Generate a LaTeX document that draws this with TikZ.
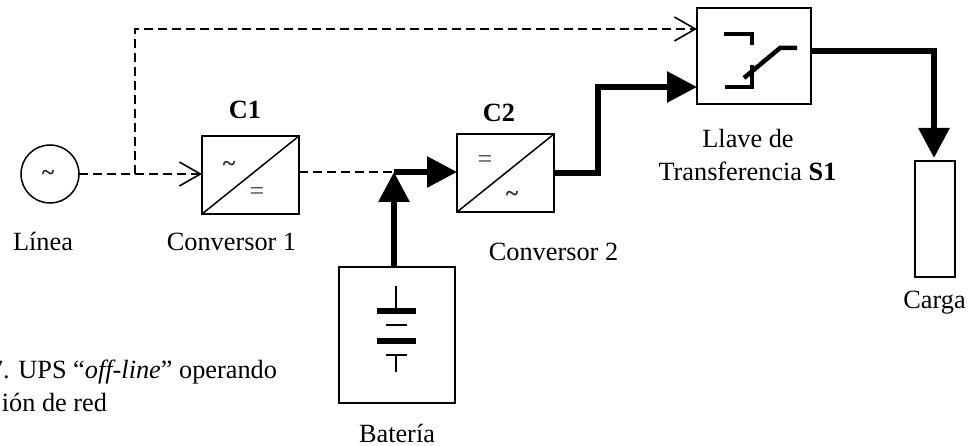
\documentclass[tikz,border=0pt]{standalone}
\usepackage{fontspec}
\setmainfont{Liberation Serif}
\usetikzlibrary{arrows.meta}
\tikzset{
  x=1pt,y=-1pt,
  every node/.style={font=\fontsize{26.3}{30}\selectfont,inner sep=0pt,outer sep=0pt},
  box/.style={draw,line width=1.5pt,rectangle},
  label/.style={anchor=base},
  sign/.style={font=\fontsize{26}{30}\selectfont,text=black!75},
  wave/.style={font=\fontsize{24}{30}\selectfont\bfseries,text=black!85},
  thin line/.style={line width=1.5pt},
  dash line/.style={line width=1.5pt,dash pattern=on 9pt off 5pt,-{Straight Barb[length=21pt,width=24pt,line width=1.6pt]}},
  dash plain/.style={line width=1.5pt,dash pattern=on 9pt off 5pt},
  heavy/.style={line width=6pt},
  heavy arrow/.style={line width=6pt,-{Triangle[length=30pt,width=30pt]}},
  sw line/.style={line width=4.5pt},
}
\begin{document}
\begin{tikzpicture}
\useasboundingbox (0,0) rectangle (971,446);
\clip (0,0) rectangle (971,446);
% blocks
\node[draw,circle,line width=1.5pt,minimum size=58pt] (linea) at (50,174) {};
\node[box,minimum width=97pt,minimum height=78pt] (c1) at (250.5,175) {};
\node[box,minimum width=97pt,minimum height=78pt] (c2) at (505.5,173) {};
\node[box,minimum width=114pt,minimum height=96pt] (s1) at (754,56) {};
\node[box,minimum width=116pt,minimum height=136pt] (bat) at (397,335) {};
\node[box,minimum width=40pt,minimum height=116pt] (carga) at (935,219) {};
\draw[thin line] (c1.south west) -- (c1.north east);
\draw[thin line] (c2.south west) -- (c2.north east);
% signs
\node[wave] (s0) at (48,175) {\textasciitilde};
\node[wave] (s1a) at (229,166) {\textasciitilde};
\node[sign] (s1b) at (257,194) {=};
\node[sign] (s2a) at (485,162) {=};
\node[wave] (s2b) at (512,196) {\textasciitilde};
% junctions
\coordinate (j1) at (135,174);
\coordinate (j2) at (135,29);
\coordinate (s1in) at (697,29);
\coordinate (c1in) at (202,174);
\coordinate (c1out) at (299,172);
\coordinate (j3) at (394,172);
\coordinate (c2in) at (457,172);
\coordinate (c2out) at (554,173);
\coordinate (k1) at (598,173);
\coordinate (k2) at (598,87);
\coordinate (s1b) at (697,87);
\coordinate (s1out) at (811,51);
\coordinate (k3) at (934,51);
\coordinate (k4) at (934,158);
\coordinate (batout) at (394,267);
% connectors
\draw[dash line] (linea.east) -- (c1in);
\draw[dash line] (j1) -- (j2) -- (s1in);
\draw[dash plain] (c1out) -- (j3);
\draw[heavy arrow] (j3) -- (c2in);
\draw[heavy arrow] (batout) -- (j3);
\draw[heavy arrow,line join=miter] (c2out) -- (k1) -- (k2) -- (s1b);
\draw[heavy arrow,line join=miter] (s1out) -- (k3) -- (k4);
% switch
\coordinate (a1) at (724,34);
\coordinate (a2) at (752,34);
\coordinate (a3) at (752,45);
\coordinate (b1) at (725,87);
\coordinate (b2) at (752,87);
\coordinate (b3) at (752,65);
\coordinate (d1) at (744,78);
\coordinate (d2) at (780,48);
\coordinate (d3) at (797,48);
\draw[sw line] (a1) -- (a2) -- (a3);
\draw[sw line] (b1) -- (b2) -- (b3);
\draw[sw line] (d1) -- (d2) -- (d3);
% battery symbol
\coordinate (t1) at (396,286);
\coordinate (t2) at (396,308);
\coordinate (t3) at (377,311);
\coordinate (t4) at (416,311);
\coordinate (t5) at (386,325);
\coordinate (t6) at (407,325);
\coordinate (t7) at (377,341);
\coordinate (t8) at (416,341);
\coordinate (t9) at (386,355);
\coordinate (t10) at (407,355);
\coordinate (t11) at (396,355);
\coordinate (t12) at (396,372);
\draw[thin line] (t1) -- (t2);
\draw[heavy] (t3) -- (t4);
\draw[thin line] (t5) -- (t6);
\draw[heavy] (t7) -- (t8);
\draw[thin line] (t9) -- (t10);
\draw[thin line] (t11) -- (t12);
% labels
\node[label] (lc1) at (245,119) {\textbf{C1}};
\node[label] (lc2) at (499,122) {\textbf{C2}};
\node[label] (ll) at (43,251) {Línea};
\node[label] (lconv1) at (231.5,251) {Conversor 1};
\node[label] (lconv2) at (553.5,261) {Conversor 2};
\node[label] (ls1) at (748,148) {Llave de};
\node[label] (ls2) at (747.5,181) {Transferencia \textbf{S1}};
\node[label] (lbat) at (397,442) {Batería};
\node[label] (lcarga) at (934.5,308) {Carga};
\node[anchor=base east] (cap1) at (277,378) {7. UPS “\textit{off-line}” operando};
\node[anchor=base east] (cap2) at (107,411) {ión de red};
\end{tikzpicture}
\end{document}
